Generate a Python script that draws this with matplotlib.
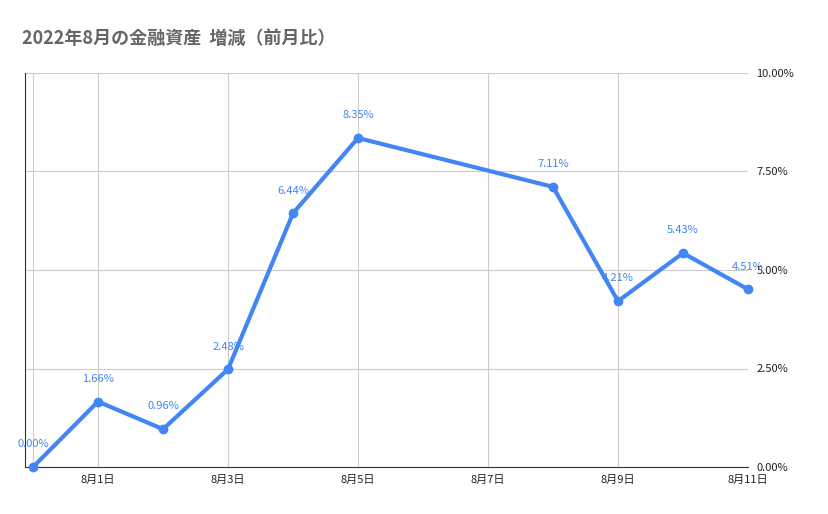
import matplotlib
matplotlib.use("Agg")
import matplotlib.pyplot as plt

plt.rcParams['font.family'] = ['Noto Sans CJK JP', 'DejaVu Sans']

days = [0, 1, 2, 3, 4, 5, 8, 9, 10, 11]  # day of August (0 = 7/31)
values = [0.00, 1.66, 0.96, 2.48, 6.44, 8.35, 7.11, 4.21, 5.43, 4.51]
xticks = [1, 3, 5, 7, 9, 11]
xlabels = ["8月1日", "8月3日", "8月5日", "8月7日", "8月9日", "8月11日"]
yticks = [0, 2.5, 5, 7.5, 10]
ylabels = ["0.00%", "2.50%", "5.00%", "7.50%", "10.00%"]

fig = plt.figure(figsize=(8.29, 5.14), dpi=100)
ax = fig.add_axes([25/829, 1-467/514, (748-25)/829, (467-73)/514])
color = "#4285F4"
ax.plot(days, values, color=color, lw=3, marker='o', ms=6, zorder=3, clip_on=False)
for d, v in zip(days, values):
    ax.text(d, v + 0.45, f"{v:.2f}%", color=color, fontsize=8, ha='center', va='bottom')
ax.set_xlim(-8/65, 11)
ax.set_ylim(0, 10)
ax.set_xticks(xticks)
ax.set_xticklabels(xlabels, fontsize=8, color="#222222")
ax.set_yticks(yticks)
ax.set_yticklabels(ylabels, fontsize=8, color="#222222")
ax.yaxis.tick_right()
ax.tick_params(length=0, pad=6)
ax.grid(True, color="#cccccc", lw=0.8)
ax.axvline(0, color="#cccccc", lw=0.8)
for s in ['top', 'right']:
    ax.spines[s].set_visible(False)
ax.spines['left'].set_color("#333333")
ax.spines['bottom'].set_color("#333333")
fig.text(22/829, 1-38/514, "2022年8月の金融資産  増減（前月比）", fontsize=13, fontweight='bold', color="#666666", va='center')
fig.savefig("out.png", dpi=100, facecolor='white')
